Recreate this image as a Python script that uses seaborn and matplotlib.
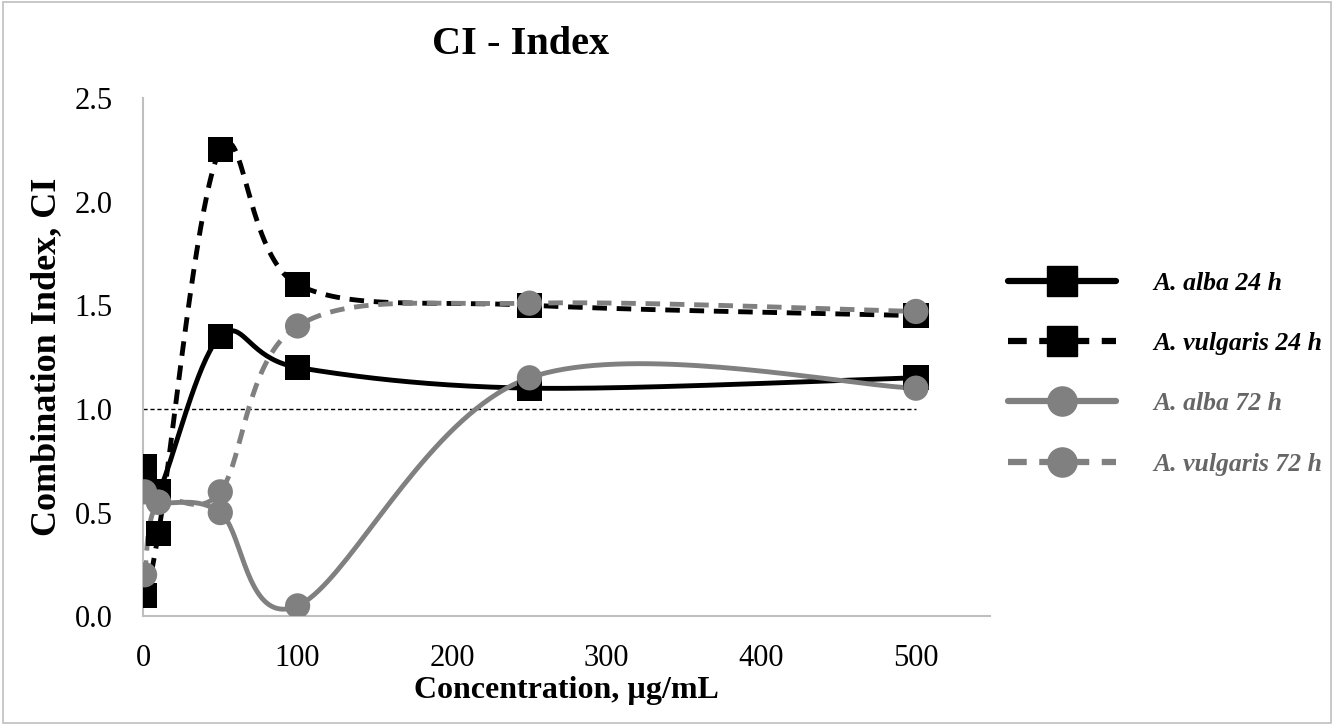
import numpy as np
import pandas as pd
import matplotlib
matplotlib.use("Agg")
import matplotlib.pyplot as plt
import seaborn as sns
from matplotlib.lines import Line2D
from matplotlib.patches import Rectangle

sns.set_style("white")
plt.rcParams['font.family'] = ['Liberation Serif', 'DejaVu Serif']
plt.rcParams['text.color'] = 'black'
plt.rcParams['axes.labelcolor'] = 'black'
plt.rcParams['xtick.color'] = 'black'
plt.rcParams['ytick.color'] = 'black'

conc = [1, 10, 50, 100, 250, 500]
alba_24 = [0.72, 0.6, 1.35, 1.2, 1.1, 1.15]
vulgaris_24 = [0.1, 0.4, 2.25, 1.6, 1.5, 1.45]
alba_72 = [0.6, 0.55, 0.5, 0.05, 1.15, 1.1]
vulgaris_72 = [0.2, 0.55, 0.6, 1.4, 1.51, 1.47]
labels = ["A. alba 24 h", "A. vulgaris 24 h", "A. alba 72 h", "A. vulgaris 72 h"]

black = "#000000"
gray = "#808080"
series = [
    (alba_24, black, "-", "s"),
    (vulgaris_24, black, (0, (3, 2)), "s"),
    (alba_72, gray, "-", "o"),
    (vulgaris_72, gray, (0, (3, 2)), "o"),
]


def smooth(x, y, n=40):
    # excel-like smoothed line (catmull-rom bezier)
    p = np.column_stack([x, y]).astype(float)
    pts = []
    for i in range(len(p) - 1):
        p0 = p[i - 1] if i > 0 else p[i]
        p3 = p[i + 2] if i + 2 < len(p) else p[i + 1]
        c1 = p[i] + (p[i + 1] - p0) / 6
        c2 = p[i + 1] - (p3 - p[i]) / 6
        t = np.linspace(0, 1, n)[:, None]
        seg = ((1 - t) ** 3) * p[i] + 3 * ((1 - t) ** 2) * t * c1 + 3 * (1 - t) * t ** 2 * c2 + t ** 3 * p[i + 1]
        pts.append(seg if i == 0 else seg[1:])
    pts = np.vstack(pts)
    return pts[:, 0], pts[:, 1]


fig = plt.figure(figsize=(13.34, 7.25), dpi=100)
ax = fig.add_axes([0.1072, 0.150, 0.635, 0.715])

ax.plot([0, 500], [1.0, 1.0], color="black", lw=1, ls=(0, (3, 2)), zorder=1)

for vals, col, ls, mk in series:
    sx, sy = smooth(conc, vals)
    sns.lineplot(x=sx, y=sy, sort=False, estimator=None, color=col, lw=3.5, linestyle=ls, ax=ax, zorder=2)
for vals, col, ls, mk in series:
    sns.scatterplot(x=conc, y=vals, marker=mk, color=col, s=330, edgecolor="none", ax=ax, zorder=3)

ax.set_xlim(0, 548)
ax.set_ylim(0, 2.5)
ax.set_xticks([0, 100, 200, 300, 400, 500])
ax.set_yticks(np.arange(0, 2.51, 0.5))
ax.yaxis.set_major_formatter(matplotlib.ticker.FormatStrFormatter('%.1f'))
ax.tick_params(axis="both", labelsize=22, width=1.5, color="#bfbfbf", direction="out")
ax.tick_params(axis="y", length=7, pad=15)
ax.tick_params(axis="x", length=6, pad=14)
for s in ["top", "right"]:
    ax.spines[s].set_visible(False)
for s in ["left", "bottom"]:
    ax.spines[s].set_color("#bfbfbf")
    ax.spines[s].set_linewidth(1.5)

ax.set_xlabel("Concentration, \u00b5g/mL", fontsize=23, fontweight="bold", labelpad=2)
ax.set_ylabel("Combination Index, CI", fontsize=26, fontweight="bold", labelpad=8)
fig.text(0.39, 0.938, "CI - Index", fontsize=29, fontweight="bold", ha="center", va="center")

handles = [Line2D([], [], color=col, lw=4.5, linestyle=ls, marker=mk, markersize=21)
           for vals, col, ls, mk in series]
leg = ax.legend(handles, labels, loc="center left", bbox_to_anchor=(0.994, 0.468), frameon=False,
                handlelength=4.2, handletextpad=1.45, labelspacing=1.45,
                prop={"size": 18.5, "weight": "bold", "style": "italic"})
for txt, (vals, col, ls, mk) in zip(leg.get_texts(), series):
    txt.set_color("#666666" if col == gray else col)

fig.patches.append(Rectangle((0.002, 0.003), 0.996, 0.994, transform=fig.transFigure,
                             fill=False, edgecolor="#bfbfbf", lw=1.2))

fig.savefig("out.png", dpi=100)
